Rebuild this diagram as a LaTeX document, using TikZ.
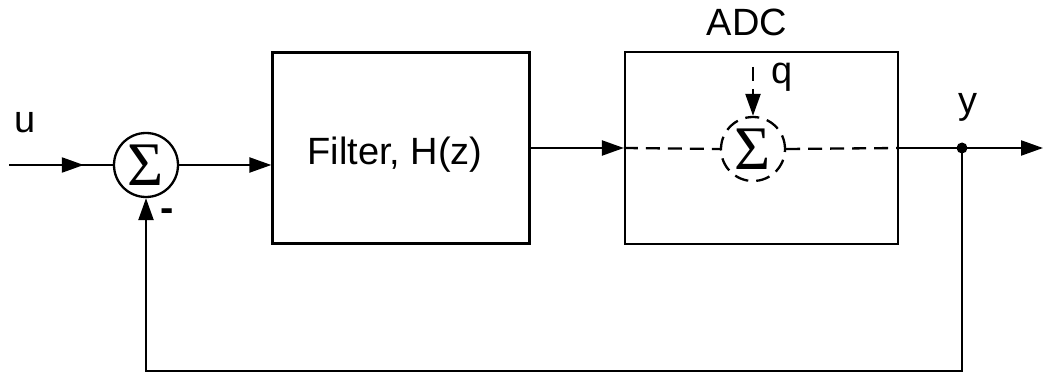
\documentclass[tikz,border=0pt]{standalone}
\usepackage{fontspec}
\setmainfont{Liberation Sans}
\newfontfamily\sigmafont{Liberation Serif}
\usetikzlibrary{arrows.meta,decorations.markings}
\begin{document}
\begin{tikzpicture}[x=1pt,y=-1pt,
  line width=2.3pt,
  every node/.style={font=\fontsize{38}{40}\selectfont},
  tip/.style={-{Triangle[length=22pt,width=15pt]}},
  block/.style={draw,rectangle,inner sep=0pt},
  summer/.style={draw,circle,minimum size=64pt,inner sep=0pt,
                 font=\sigmafont\fontsize{62}{62}\selectfont},
  lbl/.style={inner sep=0pt,anchor=base},
  dsh/.style={dash pattern=on 14pt off 8pt}]
\useasboundingbox (0,0) rectangle (1045,374);

% blocks
\node[summer] (s1) at (146,165) {\raisebox{-2pt}{Σ}};
\node[block,minimum width=257pt,minimum height=191pt] (filt) at (401,148) {};
\node[lbl] (ftext) at (395,165) {Filter, H(z)};
\node[block,minimum width=273pt,minimum height=192pt] (adc) at (761.5,148) {};
\node[lbl] (adclbl) at (747,36) {ADC};
\node[summer,dsh] (s2) at (753,149) {\raisebox{-2pt}{Σ}};

% labels
\node[lbl] (ulbl) at (25,133) {u};
\node[lbl] (qlbl) at (782,84) {q};
\node[lbl] (ylbl) at (968,114) {y};
\node[inner sep=0pt,font=\bfseries\fontsize{40}{40}\selectfont] (minus) at (167,215) {-};

% coordinates
\coordinate (uin) at (9,165);
\coordinate (qin) at (753,67);
\coordinate (ymid) at (962,148);
\coordinate (yout) at (1043,148);
\coordinate (fb1) at (962,371);
\coordinate (fb2) at (146,371);

% signal path
\draw[postaction={decorate},
      decoration={markings,mark=at position 0.72 with {\arrow{Triangle[length=22pt,width=15pt]}}}]
  (uin) -- (s1.west);
\draw[tip] (s1.east) -- (s1.east -| filt.west);
\draw[tip] (filt.east |- ymid) -- (adc.west |- ymid);
\draw[dsh] (adc.west |- ymid) -- (s2.west);
\draw[dsh] (s2.east) -- (adc.east |- ymid);
\draw[dsh,-{Triangle[length=22pt,width=15pt]}] (qin) -- (s2.north);
\draw[tip] (adc.east |- ymid) -- (yout);
\fill (ymid) circle (5.5pt);

% feedback
\draw[tip] (ymid) -- (fb1) -- (fb2) -- (s1.south);
\end{tikzpicture}
\end{document}
